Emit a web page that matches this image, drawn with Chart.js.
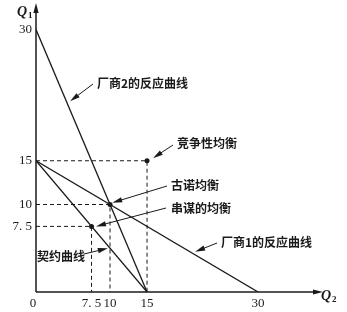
<!DOCTYPE html>
<html>
<head>
<meta charset="utf-8">
<script src="https://cdn.jsdelivr.net/npm/chart.js@4"></script>
<style>
  body { margin: 0; background: #fff; }
  #wrap { width: 347px; height: 312px; }
</style>
</head>
<body>
<div id="wrap"><canvas id="chart"></canvas></div>
<script>
// tick labels
const xTicks = [0, 7.5, 10, 15, 30];
const yTicks = [7.5, 10, 15, 30];

// reaction curves and contract curve (Q2 on x, Q1 on y)
const firm1Q2 = [0, 30], firm1Q1 = [15, 0];
const firm2Q2 = [0, 15], firm2Q1 = [30, 0];
const contractQ2 = [0, 15], contractQ1 = [15, 0];

// equilibria
const eqNames = ['竞争性均衡', '古诺均衡', '串谋的均衡'];
const eqQ2 = [15, 10, 7.5];
const eqQ1 = [15, 10, 7.5];

const curveNames = ['厂商1的反应曲线', '厂商2的反应曲线', '契约曲线'];

const pts = (xs, ys) => xs.map((x, i) => ({ x: x, y: ys[i] }));
const ink = '#1a1a1a';

const lineSet = (data, dashed) => ({
  data: data, showLine: true, borderColor: ink, borderWidth: dashed ? 1 : 1.3,
  borderDash: dashed ? [4, 3] : [], pointRadius: 0, fill: false
});

const datasets = [
  lineSet(pts(firm1Q2, firm1Q1)),
  lineSet(pts(firm2Q2, firm2Q1)),
  lineSet(pts(contractQ2, contractQ1))
];
// dashed guides to each equilibrium
eqQ2.forEach((q2, i) => {
  datasets.push(lineSet([{ x: 0, y: eqQ1[i] }, { x: q2, y: eqQ1[i] }, { x: q2, y: 0 }], true));
});
datasets.push({
  data: pts(eqQ2, eqQ1), showLine: false, pointRadius: 2.5,
  pointBackgroundColor: ink, pointBorderWidth: 0
});

function arrow(ctx, x1, y1, x2, y2) {
  const a = Math.atan2(y2 - y1, x2 - x1);
  ctx.beginPath();
  ctx.moveTo(x1, y1);
  ctx.lineTo(x2 - 6 * Math.cos(a), y2 - 6 * Math.sin(a));
  ctx.stroke();
  ctx.beginPath();
  ctx.moveTo(x2, y2);
  ctx.lineTo(x2 - 10 * Math.cos(a) + 2.6 * Math.sin(a), y2 - 10 * Math.sin(a) - 2.6 * Math.cos(a));
  ctx.lineTo(x2 - 10 * Math.cos(a) - 2.6 * Math.sin(a), y2 - 10 * Math.sin(a) + 2.6 * Math.cos(a));
  ctx.closePath();
  ctx.fill();
}

const decor = {
  id: 'decor',
  afterDatasetsDraw(chart) {
    const ctx = chart.ctx, xs = chart.scales.x, ys = chart.scales.y;
    const area = chart.chartArea;
    const X = v => xs.getPixelForValue(v), Y = v => ys.getPixelForValue(v);
    const x0 = X(0), y0 = Y(0);
    ctx.save();
    ctx.strokeStyle = ink;
    ctx.fillStyle = ink;
    ctx.lineWidth = 1.5;

    // axes with arrows
    arrow(ctx, x0, y0, x0, area.top - 2);
    arrow(ctx, x0, y0, area.right + 2, y0);

    // tick labels
    ctx.font = '13px "Liberation Serif"';
    ctx.textBaseline = 'middle';
    ctx.textAlign = 'right';
    yTicks.forEach(v => ctx.fillText(v === 7.5 ? '7. 5' : String(v), x0 - 4, Y(v)));
    ctx.textAlign = 'center';
    xTicks.forEach(v => {
      const lbl = v === 7.5 ? '7. 5' : String(v);
      ctx.fillText(lbl, v === 0 ? x0 - 3 : X(v), y0 + 12);
    });

    // axis titles
    ctx.font = 'italic bold 14px "Liberation Serif"';
    ctx.textAlign = 'left';
    ctx.fillText('Q', 17, 12);
    ctx.fillText('Q', 321, 296);
    ctx.font = 'bold 9px "Liberation Serif"';
    ctx.fillText('1', 28, 16);
    ctx.fillText('2', 332, 300);

    // annotations: text, text pos, arrow start, arrow tip in data units
    ctx.font = 'bold 12px "Noto Sans CJK SC"';
    ctx.lineWidth = 1;
    const notes = [
      [eqNames[0], 177, 143, 173, 145, 15.8, 15.3],
      [eqNames[1], 171, 185, 167, 186, 10.3, 10.2],
      [eqNames[2], 171, 208, 166, 208, 8.1, 7.5],
      [curveNames[0], 221, 242, 217, 243, 21.5, 4.6],
      [curveNames[1], 97, 83, 93, 84, 4.6, 21.8],
      [curveNames[2], 37, 256, 84, 254, 9.7, 5.0]
    ];
    notes.forEach(n => {
      ctx.fillText(n[0], n[1], n[2]);
      arrow(ctx, n[3], n[4], X(n[5]), Y(n[6]));
    });
    ctx.restore();
  }
};

new Chart(document.getElementById('chart'), {
  type: 'scatter',
  data: { datasets: datasets },
  options: {
    responsive: true,
    maintainAspectRatio: false,
    animation: false,
    layout: { padding: { left: 36, right: 26, top: 5, bottom: 20 } },
    plugins: { legend: { display: false }, tooltip: { enabled: false } },
    scales: {
      x: { type: 'linear', min: 0, max: 38.5, display: false },
      y: { type: 'linear', min: 0, max: 32.8, display: false }
    }
  },
  plugins: [decor]
});
</script>
</body>
</html>
